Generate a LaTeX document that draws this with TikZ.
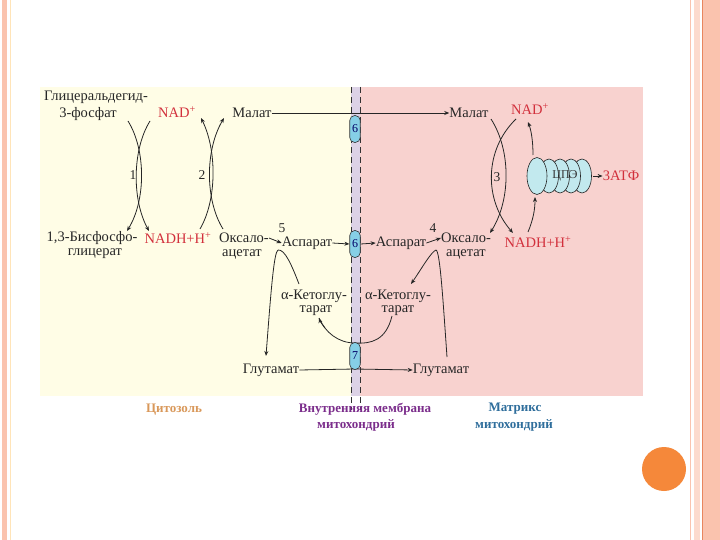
\documentclass[tikz,border=0pt]{standalone}
\usepackage{fontspec}
\setmainfont{Liberation Serif}
\usetikzlibrary{arrows.meta}
\definecolor{cream}{HTML}{FFFDE6}
\definecolor{matpink}{HTML}{F8D2CF}
\definecolor{memb}{HTML}{DCD2E6}
\definecolor{redtxt}{HTML}{D2303C}
\definecolor{capfill}{HTML}{86CFE6}
\definecolor{etcfill}{HTML}{C2E9EE}
\definecolor{bordpink}{HTML}{FAC3AE}
\definecolor{borddark}{HTML}{E8865E}
\definecolor{cytc}{HTML}{D9985A}
\definecolor{membc}{HTML}{7B2D8B}
\definecolor{matc}{HTML}{2F6E9C}
\definecolor{dotc}{HTML}{F5883A}
\tikzset{
  lbl/.style={inner sep=0pt, font=\fontsize{14.5}{16}\selectfont, align=center, text=black!85},
  rlbl/.style={lbl, text=redtxt},
  num/.style={inner sep=0pt, font=\fontsize{13.5}{13.5}\selectfont, text=black!85},
  caps/.style={draw=black!80, line width=0.6pt, fill=capfill, rounded corners=5pt,
    minimum width=10.5pt, minimum height=27pt, inner sep=0pt, font=\fontsize{12}{12}\selectfont, text=blue!40!black},
  arr/.style={-{Stealth[length=5pt,width=4pt]}, line width=0.8pt, black!85},
  ln/.style={line width=0.8pt, black!85},
  etcell/.style={draw=black!85, line width=0.6pt, fill=etcfill},
  foot/.style={inner sep=0pt, font=\bfseries\fontsize{13}{15}\selectfont, align=center}
}
\begin{document}
\begin{tikzpicture}[x=1pt,y=-1pt]
\useasboundingbox (0,0) rectangle (720,540);
\fill[white] (0,0) rectangle (720,540);
% slide borders
\fill[bordpink] (2,0) rectangle (7,540);
\draw[cream!80!orange, line width=0.6pt] (10,0) -- (10,540);
\draw[bordpink, line width=0.8pt] (690,0) -- (690,540);
\fill[bordpink!60] (694,0) rectangle (700,540);
\draw[borddark, line width=0.8pt] (702,0) -- (702,540);
\fill[bordpink] (703,0) rectangle (720,540);
\fill[dotc] (664,469) circle (22);
% compartments
\fill[cream] (40,87) rectangle (351,396);
\fill[matpink] (360,87) rectangle (643,396);
\fill[memb] (351,87) rectangle (360,396);
\draw[dashed, line width=0.7pt, black!80, dash pattern=on 6pt off 4pt] (351,87) -- (351,410);
\draw[dashed, line width=0.7pt, black!80, dash pattern=on 6pt off 4pt] (360,87) -- (360,410);

% cytosol labels
\node[lbl] (g3p1) at (96,97) {Глицеральдегид-};
\node[lbl] (g3p2) at (88,114) {3-фосфат};
\node[rlbl] (nadL) at (177,112) {NAD\textsuperscript{+}};
\node[lbl] (malL) at (252,113) {Малат};
\node[num] (one) at (133,175) {1};
\node[num] (two) at (202,175) {2};
\node[lbl] (bpg1) at (92,238) {1,3-Бисфосфо-};
\node[lbl] (bpg2) at (95,254) {глицерат};
\node[rlbl] (nadhL) at (178,238) {NADH+H\textsuperscript{+}};
\node[lbl] (oaaL1) at (244,238) {Оксало-};
\node[lbl] (oaaL2) at (242,254) {ацетат};
\node[num] (five) at (282,228) {5};
\node[lbl] (aspL) at (307,243) {Аспарат};
\node[lbl] (akgL1) at (314,296) {α-Кетоглу-};
\node[lbl] (akgL2) at (316,311) {тарат};
\node[lbl] (gluL) at (271,370) {Глутамат};

% matrix labels
\node[lbl] (malR) at (469,113) {Малат};
\node[rlbl] (nadR) at (530,109) {NAD\textsuperscript{+}};
\node[num] (three) at (497,177) {3};
\node[lbl] (aspR) at (401,243) {Аспарат};
\node[num] (four) at (433,228) {4};
\node[lbl] (oaaR1) at (466,238) {Оксало-};
\node[lbl] (oaaR2) at (466,254) {ацетат};
\node[rlbl] (nadhR) at (538,242) {NADH+H\textsuperscript{+}};
\node[lbl] (akgR1) at (398,296) {α-Кетоглу-};
\node[lbl] (akgR2) at (398,311) {тарат};
\node[lbl] (gluR) at (441,370) {Глутамат};

% transport lines
\draw[arr] (malL.east) -- (malR.west);
\draw[ln] (gluL.east) -- (355,369);
\draw[arr] (355,369) -- (gluR.west);

% capsules
\node[caps] (c6a) at (355,129) {6};
\node[caps] (c6b) at (355,244) {6};
\draw[ln] (392,316) .. controls (386,340) and (372,344) .. (355,343)
  .. controls (338,343) and (325,332) .. (319,318);
\draw[arr] (325,328) .. controls (322,324) and (320,321) .. (319,318);
\node[caps] (c7) at (355,356) {7};
\draw[arr] (aspL.east) -- (c6b.west);
\draw[arr] (c6b.east) -- (aspR.west);
\draw[arr] (aspR.east) -- (oaaR1.west);
\draw[arr] (oaaL1.east) -- (aspL.west);

% reaction 1
\draw[arr] (128,121) .. controls (146,150) and (146,200) .. (127,231);
\draw[arr] (150,121) .. controls (132,150) and (132,200) .. (149,231);
% reaction 2
\draw[arr] (200,229) .. controls (217,200) and (217,150) .. (201,118);
\draw[arr] (223,229) .. controls (205,200) and (205,150) .. (224,118);
% reaction 3
\draw[arr] (491,119) .. controls (511,150) and (511,200) .. (490,233);
\draw[arr] (516,119) .. controls (484,150) and (484,200) .. (513,233);

% transamination 5 (cytosol)
\draw[ln] (299,284) .. controls (292,266) and (285,249) .. (278,250);
\draw[arr] (278,250) .. controls (274,252) and (271,290) .. (266,356);
% transamination 4 (matrix)
\draw[ln] (447,357) .. controls (443,300) and (440,251) .. (436,250);
\draw[arr] (436,250) .. controls (431,252) and (422,268) .. (411,284);

% electron transport chain
\foreach \cx in {582,571,560,549} {
  \draw[etcell] (\cx,176) ellipse (9.5 and 17);
}
\draw[etcell] (537,176) ellipse (10 and 18.5);
\node[inner sep=0pt, font=\fontsize{12}{12}\selectfont, text=black!80] (etc) at (565,176) {ЦПЭ};
\coordinate (etcR) at (593,176);
\node[rlbl] (atp) at (621,176) {3АТФ};
\draw[arr] (etcR) -- (atp.west);
\draw[arr] (528,232) .. controls (533,220) and (535,210) .. (535,197);
\draw[arr] (533,155) .. controls (533,140) and (531,130) .. (528,122);

% footer labels
\node[foot, text=cytc] (cyt) at (174,410) {Цитозоль};
\node[foot, text=membc] (mem1) at (365,409) {Внутренняя мембрана};
\node[foot, text=membc] (mem2) at (356,425) {митохондрий};
\node[foot, text=matc] (mat1) at (515,409) {Матрикс};
\node[foot, text=matc] (mat2) at (514,425) {митохондрий};
\end{tikzpicture}
\end{document}
